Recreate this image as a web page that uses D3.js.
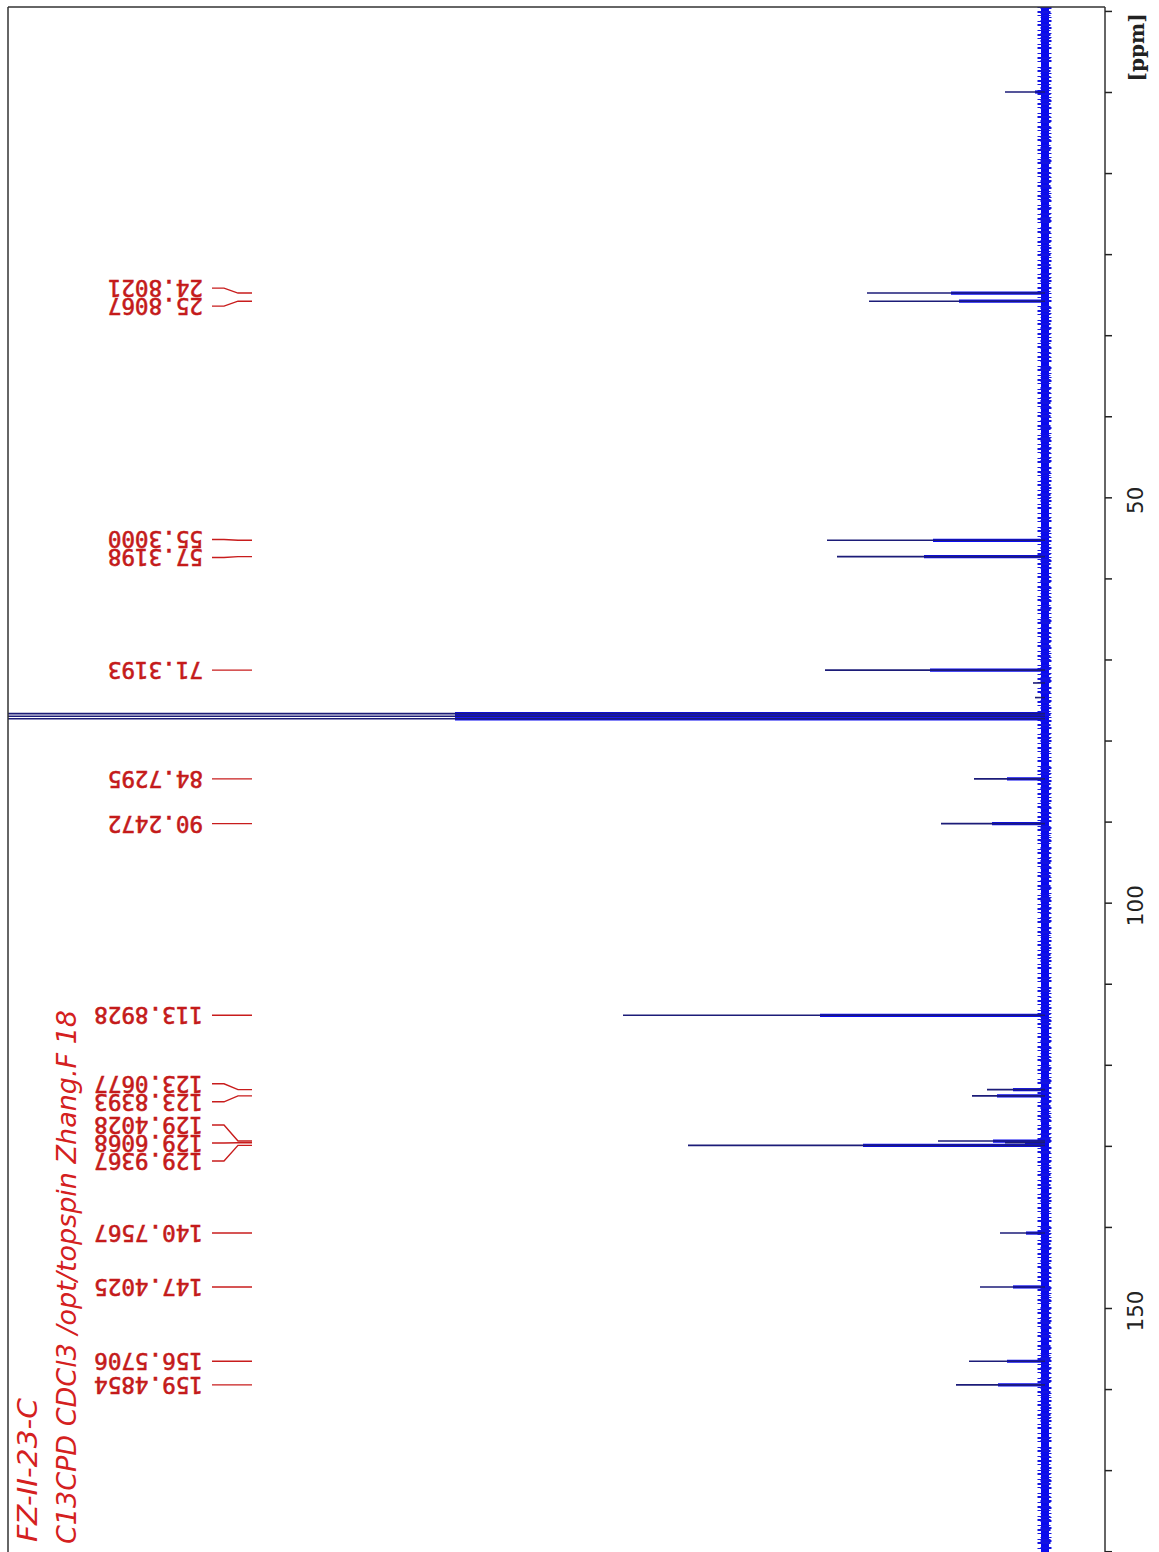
<!DOCTYPE html>
<html>
<head>
<meta charset="utf-8">
<script src="https://cdn.jsdelivr.net/npm/d3@7"></script>
<style>
  html, body { margin: 0; padding: 0; background: #fff; }
  svg { display: block; }
</style>
</head>
<body>
<svg id="chart" width="1159" height="1552"></svg>
<script>
// ---------------- DATA ----------------
// labelled peaks: chemical shift (ppm)
const peakPpm = [24.8021, 25.8067, 55.3000, 57.3198, 71.3193, 84.7295, 90.2472,
                 113.8928, 123.0677, 123.8393, 129.4028, 129.6068, 129.9367,
                 140.7567, 147.4025, 156.5706, 159.4854];
// peak heights (arbitrary intensity units)
const peakHeight = [178, 176, 218, 208, 220, 71, 104,
                    422, 58, 73, 107, 40, 357,
                    45, 65, 76, 89];
// intensity at which each line visibly broadens near its base
const peakBase = [94, 86, 112, 121, 115, 38, 53,
                  225, 32, 48, 52, 20, 182,
                  19, 32, 38, 47];
// unlabelled lines: TMS, small impurities and the CDCl3 triplet
const extraPpm    = [0.00, 72.90, 74.70, 76.68, 77.00, 77.32];
const extraHeight = [40, 12, 10, 1400, 1400, 1400];
const extraBase   = [10, 4, 4, 590, 590, 590];
// axis
const axisTicks  = [-10, 0, 10, 20, 30, 40, 50, 60, 70, 80, 90, 100, 110, 120, 130, 140, 150, 160, 170, 180];
const axisLabels = [50, 100, 150];
const axisUnit = "[ppm]";
const titleLines = ["FZ-II-23-C", "C13CPD CDCl3 /opt/topspin Zhang.F 18"];

// ---------------- DRAW ----------------
const svg = d3.select("#chart");
const W = 1159, H = 1552;
const frame = { left: 8, top: 7, right: 1105, bottom: 1560 };

const y = d3.scaleLinear().domain([0, 150]).range([92, 1308]);   // ppm -> vertical
const x = d3.scaleLinear().domain([0, 1000]).range([1045, 45]);  // intensity -> leftwards

svg.append("defs").append("clipPath").attr("id", "plotClip")
  .append("rect").attr("x", frame.left).attr("y", frame.top)
  .attr("width", frame.right - frame.left).attr("height", frame.bottom - frame.top);

const plot = svg.append("g").attr("clip-path", "url(#plotClip)");

// baseline (noise band)
const base = x(0);
plot.append("line").attr("x1", base).attr("x2", base)
  .attr("y1", frame.top).attr("y2", H)
  .attr("stroke", "#0a0aee").attr("stroke-width", 8);
plot.append("line").attr("x1", base - 1).attr("x2", base - 1)
  .attr("y1", frame.top).attr("y2", H)
  .attr("stroke", "#1414e0").attr("stroke-width", 13)
  .attr("stroke-dasharray", "1 3 2 2 1 5 1 2 2 4");
plot.append("line").attr("x1", base + 1).attr("x2", base + 1)
  .attr("y1", frame.top).attr("y2", H)
  .attr("stroke", "#1010e8").attr("stroke-width", 11)
  .attr("stroke-dasharray", "2 4 1 3 1 2 2 5");

const allPpm = peakPpm.concat(extraPpm);
const allH = peakHeight.concat(extraHeight);
const allB = peakBase.concat(extraBase);
const lines = allPpm.map((p, i) => ({ ppm: p, h: allH[i], b: allB[i] }));

// broad base of each line
plot.selectAll("line.pbase").data(lines).join("line").attr("class", "pbase")
  .attr("x1", base).attr("x2", d => x(d.b))
  .attr("y1", d => y(d.ppm)).attr("y2", d => y(d.ppm))
  .attr("stroke", "#0a0af0").attr("stroke-width", 3.2);
// thin tip of each line
plot.selectAll("line.ptip").data(lines).join("line").attr("class", "ptip")
  .attr("x1", base).attr("x2", d => x(d.h))
  .attr("y1", d => y(d.ppm)).attr("y2", d => y(d.ppm))
  .attr("stroke", "#1c1c78").attr("stroke-width", 1.6);

// frame
svg.append("line").attr("x1", frame.left).attr("x2", frame.right)
  .attr("y1", frame.top).attr("y2", frame.top)
  .attr("stroke", "#333").attr("stroke-width", 1.5);
svg.append("line").attr("x1", frame.left).attr("x2", frame.left)
  .attr("y1", frame.top).attr("y2", H)
  .attr("stroke", "#333").attr("stroke-width", 1.5);

// axis on the right
const axisG = svg.append("g").attr("transform", `translate(${frame.right},0)`);
axisG.call(d3.axisRight(y).tickValues(axisTicks).tickSize(7).tickSizeOuter(0).tickFormat(""));
axisG.select(".domain").attr("stroke", "#333").attr("stroke-width", 1.5)
  .attr("d", `M0,${frame.top}V${H}`);
axisG.selectAll(".tick line").attr("stroke", "#222").attr("stroke-width", 1.5);

svg.selectAll("text.axlab").data(axisLabels).join("text").attr("class", "axlab")
  .attr("transform", d => `translate(1135,${y(d) + 3}) rotate(-90)`)
  .attr("text-anchor", "middle").attr("dominant-baseline", "central")
  .attr("font-family", "DejaVu Sans").attr("font-size", 21.5).attr("fill", "#222")
  .text(d => d);
svg.append("text")
  .attr("transform", `translate(1137,${y(-5.5)}) rotate(-90)`)
  .attr("text-anchor", "middle").attr("dominant-baseline", "central")
  .attr("font-family", "DejaVu Serif").attr("font-weight", "bold")
  .attr("font-size", 20).attr("fill", "#222").text(axisUnit);

// peak labels (layout: spread overlapping labels with a minimum gap)
const gap = 18;
const items = peakPpm.map(p => ({ ppm: p, py: y(p) })).sort((a, b) => a.py - b.py);
let groups = items.map(it => ({ members: [it], center: it.py }));
let changed = true;
while (changed) {
  changed = false;
  for (let i = 0; i < groups.length - 1; i++) {
    const a = groups[i], b = groups[i + 1];
    const aEnd = a.center + (a.members.length - 1) * gap / 2;
    const bStart = b.center - (b.members.length - 1) * gap / 2;
    if (bStart - aEnd < gap) {
      const members = a.members.concat(b.members);
      const center = d3.mean(members, m => m.py);
      groups.splice(i, 2, { members, center });
      changed = true;
      break;
    }
  }
}
groups.forEach(g => {
  const n = g.members.length;
  g.members.forEach((m, k) => { m.ly = g.center + (k - (n - 1) / 2) * gap; });
});

const labG = svg.append("g");
labG.selectAll("path.conn").data(items).join("path").attr("class", "conn")
  .attr("d", d => `M212,${d.ly}H224L238,${d.py}H252`)
  .attr("fill", "none").attr("stroke", "#c81c1c").attr("stroke-width", 1.4);
labG.selectAll("text.plab").data(items).join("text").attr("class", "plab")
  .attr("transform", d => `translate(203,${d.ly}) rotate(180)`)
  .attr("text-anchor", "start").attr("dominant-baseline", "central")
  .attr("font-family", "DejaVu Sans Mono").attr("font-size", 23)
  .attr("fill", "#c41a1a").attr("stroke", "#c41a1a").attr("stroke-width", 0.6)
  .attr("textLength", d => d.ppm.toFixed(4).length * 13.6).attr("lengthAdjust", "spacingAndGlyphs")
  .text(d => d.ppm.toFixed(4));

// title (rotated)
svg.append("text")
  .attr("transform", "translate(28,1542) rotate(-90)")
  .attr("text-anchor", "start").attr("dominant-baseline", "central")
  .attr("font-family", "DejaVu Sans").attr("font-style", "italic")
  .attr("font-size", 26).attr("fill", "#d42020")
  .attr("textLength", 144).attr("lengthAdjust", "spacingAndGlyphs")
  .text(titleLines[0]);
svg.append("text")
  .attr("transform", "translate(66,1544) rotate(-90)")
  .attr("text-anchor", "start").attr("dominant-baseline", "central")
  .attr("font-family", "DejaVu Sans").attr("font-style", "italic")
  .attr("font-size", 27).attr("fill", "#d42020")
  .attr("textLength", 534).attr("lengthAdjust", "spacingAndGlyphs")
  .text(titleLines[1]);
</script>
</body>
</html>
